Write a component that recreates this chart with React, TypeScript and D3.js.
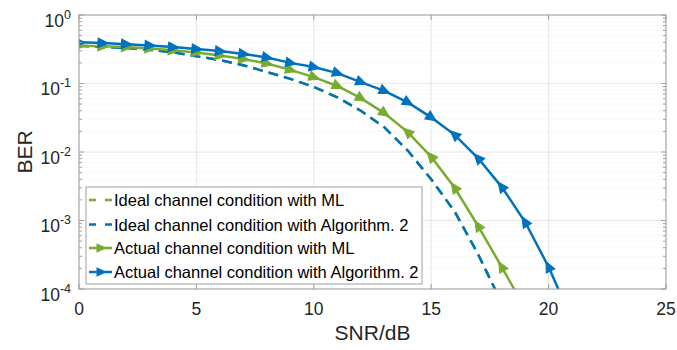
import React from "react";
import * as d3 from "d3";

const snrAlg2 = [0, 1, 2, 3, 4, 5, 6, 7, 8, 9, 10, 11, 12, 13, 14, 15, 16, 17, 18, 19, 20, 21];
const actualAlg2 = [0.4, 0.39, 0.375, 0.36, 0.34, 0.32, 0.297, 0.27, 0.24, 0.2, 0.174, 0.142, 0.105, 0.078, 0.053, 0.032, 0.0178, 0.0081, 0.0031, 0.00095, 0.00021, 0.000035];
const snrML = [0, 1, 2, 3, 4, 5, 6, 7, 8, 9, 10, 11, 12, 13, 14, 15, 16, 17, 18, 19];
const actualML = [0.355, 0.35, 0.34, 0.325, 0.305, 0.284, 0.256, 0.228, 0.196, 0.158, 0.124, 0.092, 0.061, 0.037, 0.0195, 0.0085, 0.003, 0.00083, 0.00021, 0.000052];
const snrIdeal = [0, 1, 2, 3, 4, 5, 6, 7, 8, 9, 10, 11, 12, 13, 14, 15, 16, 17, 18];
const idealML = [0.355, 0.345, 0.33, 0.31, 0.285, 0.25, 0.22, 0.185, 0.147, 0.117, 0.089, 0.063, 0.04, 0.023, 0.0105, 0.004, 0.00135, 0.00032, 0.000063];
const idealAlg2 = [0.355, 0.345, 0.33, 0.31, 0.285, 0.25, 0.22, 0.185, 0.147, 0.117, 0.089, 0.063, 0.04, 0.023, 0.0105, 0.004, 0.00135, 0.00032, 0.000063];

const xTicks = [0, 5, 10, 15, 20, 25];
const yExponents = [0, -1, -2, -3, -4];
const legendLabels = [
  "Ideal channel condition with ML",
  "Ideal channel condition with Algorithm. 2",
  "Actual channel condition with ML",
  "Actual channel condition with Algorithm. 2",
];

const BLUE = "#0072BD";
const GREEN = "#77AC30";
const FONT = "'Liberation Sans', Arial, Helvetica, sans-serif";

const W = 677;
const H = 350;
const L = 79, R = 666, T = 15, B = 289;

export default function App() {
  const x = d3.scaleLinear().domain([0, 25]).range([L, R]);
  const y = d3.scaleLog().domain([1e-4, 1]).range([B, T]);

  const line = d3
    .line<[number, number]>()
    .x((d) => x(d[0]))
    .y((d) => y(d[1]));

  const zip = (xs: number[], ys: number[]) => xs.map((v, i) => [v, ys[i]] as [number, number]);

  const series = [
    { pts: zip(snrIdeal, idealML), color: GREEN, dashed: true, marker: false },
    { pts: zip(snrIdeal, idealAlg2), color: BLUE, dashed: true, marker: false },
    { pts: zip(snrML, actualML), color: GREEN, dashed: false, marker: true },
    { pts: zip(snrAlg2, actualAlg2), color: BLUE, dashed: false, marker: true },
  ];

  const minorYs: number[] = [];
  for (let e = -4; e < 0; e++) {
    for (let m = 2; m <= 9; m++) minorYs.push(m * Math.pow(10, e));
  }

  const tri = "M6,0 L-4.5,-4.8 L-4.5,4.8 Z";

  const markerAngle = (pts: [number, number][], i: number) => {
    const a = pts[Math.max(0, i - 1)];
    const b = pts[Math.min(pts.length - 1, i + 1)];
    const dx = x(b[0]) - x(a[0]);
    const dy = y(b[1]) - y(a[1]);
    let ang = (Math.atan2(dy, dx) * 180) / Math.PI;
    if (ang > 40) ang -= 180;
    return ang;
  };

  const legendRows = [200, 224.5, 248, 272];

  return (
    <svg
      width={W}
      height={H}
      style={{ position: "absolute", left: 0, top: 0, background: "#fff" }}
      fontFamily={FONT}
    >
      <defs>
        <clipPath id="plotClip">
          <rect x={L} y={T} width={R - L} height={B - T} />
        </clipPath>
      </defs>
      <rect x={0} y={0} width={W} height={H} fill="#fff" />
      {/* minor grid */}
      {minorYs.map((v, i) => (
        <line key={"mg" + i} x1={L} x2={R} y1={y(v)} y2={y(v)} stroke="#efefef" strokeWidth={0.8} strokeDasharray="1,1" />
      ))}
      {/* major grid */}
      {yExponents.map((e) => (
        <line key={"yg" + e} x1={L} x2={R} y1={y(Math.pow(10, e))} y2={y(Math.pow(10, e))} stroke="#e6e6e6" strokeWidth={1} />
      ))}
      {xTicks.map((t) => (
        <line key={"xg" + t} x1={x(t)} x2={x(t)} y1={T} y2={B} stroke="#e6e6e6" strokeWidth={1} />
      ))}

      {/* series */}
      <g clipPath="url(#plotClip)">
        {series.map((s, si) => (
          <g key={"s" + si}>
            <path
              d={line(s.pts) || ""}
              fill="none"
              stroke={s.color}
              strokeWidth={2.5}
              strokeDasharray={s.dashed ? "10,6" : undefined}
            />
            {s.marker &&
              s.pts.map((p, i) =>
                p[1] >= 1e-4 ? (
                  <path
                    key={i}
                    d={tri}
                    fill={s.color}
                    stroke={s.color}
                    strokeWidth={1}
                    transform={`translate(${x(p[0])},${y(p[1])}) rotate(${markerAngle(s.pts, i)})`}
                  />
                ) : null
              )}
          </g>
        ))}
      </g>

      {/* axes box */}
      <rect x={L} y={T} width={R - L} height={B - T} fill="none" stroke="#a0a0a0" strokeWidth={1} />
      {/* ticks */}
      {xTicks.map((t) => (
        <g key={"xt" + t}>
          <line x1={x(t)} x2={x(t)} y1={B} y2={B - 5} stroke="#a0a0a0" />
          <line x1={x(t)} x2={x(t)} y1={T} y2={T + 5} stroke="#a0a0a0" />
          <text x={x(t)} y={B + 26} textAnchor="middle" fontSize={17.5} fill="#262626">
            {t}
          </text>
        </g>
      ))}
      {yExponents.map((e) => {
        const ty = y(Math.pow(10, e));
        return (
          <g key={"yt" + e}>
            <line x1={L} x2={L + 5} y1={ty} y2={ty} stroke="#a0a0a0" />
            <line x1={R} x2={R - 5} y1={ty} y2={ty} stroke="#a0a0a0" />
            <text x={71} y={ty + 11.5} textAnchor="end" fontSize={17.5} fill="#262626">
              <tspan>10</tspan>
              <tspan dy={-8} fontSize={12.5}>{e === 0 ? "0" : "-" + Math.abs(e)}</tspan>
            </text>
          </g>
        );
      })}
      {minorYs.map((v, i) => (
        <g key={"mt" + i}>
          <line x1={L} x2={L + 3} y1={y(v)} y2={y(v)} stroke="#a0a0a0" />
          <line x1={R} x2={R - 3} y1={y(v)} y2={y(v)} stroke="#a0a0a0" />
        </g>
      ))}

      {/* axis labels */}
      <text x={(L + R) / 2} y={340} textAnchor="middle" fontSize={21} fill="#262626">
        SNR/dB
      </text>
      <text
        transform={`translate(32,${(T + B) / 2}) rotate(-90)`}
        textAnchor="middle"
        fontSize={21}
        fill="#262626"
      >
        BER
      </text>

      {/* legend */}
      <rect x={86} y={187} width={336} height={97} fill="#fff" stroke="#a0a0a0" strokeWidth={1} />
      {legendLabels.map((lab, i) => {
        const s = series[i];
        const ly = legendRows[i];
        return (
          <g key={"lg" + i}>
            <line
              x1={89}
              x2={112}
              y1={ly}
              y2={ly}
              stroke={s.color}
              strokeWidth={2.5}
              strokeDasharray={s.dashed ? "7,9" : undefined}
            />
            {s.marker && <path d={tri} fill={s.color} transform={`translate(101,${ly})`} />}
            <text x={114} y={ly + 6} fontSize={16.5} fill="#000">
              {lab}
            </text>
          </g>
        );
      })}
    </svg>
  );
}
